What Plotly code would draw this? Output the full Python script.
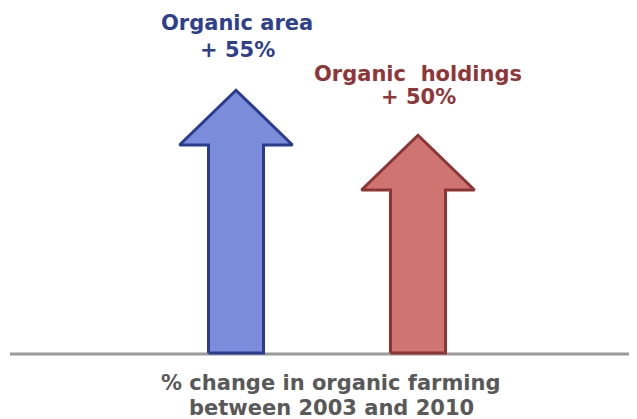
import plotly.graph_objects as go

# Data
labels = ["Organic area", "Organic\u00a0 holdings"]
changes = [55, 50]
change_labels = ["+ 55%", "+ 50%"]
fills = ["#7A8CDA", "#CF7571"]
edges = ["#2B3C90", "#8E3434"]
text_colors = ["#2E3F92", "#913537"]
axis_title = ["% change in organic farming", "between 2003 and 2010"]

W, H = 629, 419
OFF = 8  # page body margin
# value -> page pixel mapping: y_px = A - B*v
A, B = 583.0, 9.0
y_hi = (A - OFF) / B
y_lo = (A - OFF - H) / B
baseline = (A - 353) / B
head_h = 57 / B

centers = [236, 418]
shaft_hw = 27.5
head_hw = 56.5


def py2paper(py):
    return 1 - (py - OFF) / H


fig = go.Figure()
for cx, v, fc, ec in zip(centers, changes, fills, edges):
    hb = v - head_h
    xs = [cx - shaft_hw, cx - shaft_hw, cx - head_hw, cx, cx + head_hw, cx + shaft_hw, cx + shaft_hw, cx - shaft_hw]
    ys = [baseline, hb, hb, v - 0.25, hb, hb, baseline, baseline]
    fig.add_trace(go.Scatter(x=xs, y=ys, mode="lines", fill="toself", fillcolor=fc,
                             line=dict(color=ec, width=3), hoverinfo="skip", showlegend=False))

fig.add_shape(type="line", x0=10, x1=W + OFF, y0=baseline - 0.1, y1=baseline - 0.1, xref="x", yref="y",
              line=dict(color="#9A9A9A", width=3), layer="below")

font_family = "DejaVu Sans"
label_pos = [(237, 23, 50), (418, 74, 97)]
for (cx, y1, y2), lab, cl, tc in zip(label_pos, labels, change_labels, text_colors):
    fig.add_annotation(x=cx, y=py2paper(y1), xref="x", yref="paper", text="<b>%s</b>" % lab,
                       showarrow=False, yanchor="middle", xanchor="center",
                       font=dict(family=font_family, size=21, color=tc))
    fig.add_annotation(x=cx, y=py2paper(y2), xref="x", yref="paper", text="<b>%s</b>" % cl,
                       showarrow=False, yanchor="middle", xanchor="center",
                       font=dict(family=font_family, size=21, color=tc))

for t, py in zip(axis_title, [383, 408]):
    fig.add_annotation(x=331, y=py2paper(py), xref="x", yref="paper", text="<b>%s</b>" % t,
                       showarrow=False, yanchor="middle", xanchor="center",
                       font=dict(family=font_family, size=21, color="#595959"))

fig.update_layout(width=W, height=H, margin=dict(l=0, r=0, t=0, b=0),
                  paper_bgcolor="white", plot_bgcolor="white",
                  xaxis=dict(range=[OFF, W + OFF], visible=False, fixedrange=True),
                  yaxis=dict(range=[y_lo, y_hi], visible=False, fixedrange=True))
fig.write_html("out.html", config={"displayModeBar": False})
